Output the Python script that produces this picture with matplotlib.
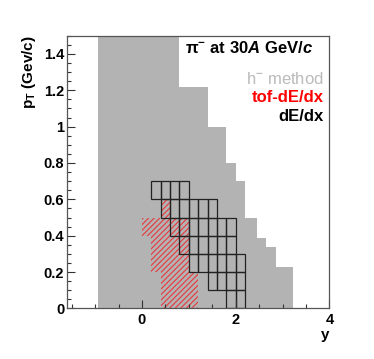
import matplotlib
matplotlib.use("Agg")
import matplotlib.pyplot as plt
import numpy as np
from matplotlib.ticker import MultipleLocator, FixedLocator

# ---- data ----
# h- method acceptance: upper pT edge per rapidity bin
gray_edges = [-0.94, 0.8, 1.4, 1.8, 2.0, 2.2, 2.45, 2.65, 2.85, 3.22]
gray_pt_max = [1.5, 1.22, 1.0, 0.8, 0.7, 0.5, 0.39, 0.34, 0.23]

# dE/dx acceptance: per pT row (lower edge), rapidity range of cells
dedx_pt_lo = [0.0, 0.1, 0.2, 0.3, 0.4, 0.5, 0.6]
dedx_y_min = [1.8, 1.4, 1.0, 0.8, 0.6, 0.4, 0.2]
dedx_y_max = [2.2, 2.2, 2.2, 2.0, 2.0, 1.6, 1.0]

# tof-dE/dx acceptance
tof_pt_lo = [0.0, 0.1, 0.2, 0.3, 0.4, 0.5]
tof_y_min = [0.4, 0.4, 0.2, 0.2, 0.0, 0.4]
tof_y_max = [1.2, 1.2, 1.0, 1.0, 1.0, 0.6]

cell_dy = 0.2
cell_dpt = 0.1

ytick_vals = [0, 0.2, 0.4, 0.6, 0.8, 1.0, 1.2, 1.4]
ytick_labels = ['0', '0.2', '0.4', '0.6', '0.8', '1', '1.2', '1.4']
xtick_vals = [0, 2, 4]
xtick_labels = ['0', '2', '4']

# ---- style ----
plt.rcParams['font.family'] = ['Liberation Sans', 'DejaVu Sans']
plt.rcParams['mathtext.fontset'] = 'custom'
plt.rcParams['mathtext.rm'] = 'Liberation Sans:bold'
plt.rcParams['mathtext.bf'] = 'Liberation Sans:bold'
plt.rcParams['mathtext.it'] = 'Liberation Sans:bold:italic'
plt.rcParams['hatch.linewidth'] = 0.8

fig = plt.figure(figsize=(3.74, 3.59), dpi=100)
ax = fig.add_axes([0.179, 0.1407, 0.702, 0.76])

# gray h- region
ax.stairs(gray_pt_max, gray_edges, baseline=0, fill=True, color='#b3b3b3', lw=0)

# tof-dE/dx hatched
for lo, ymin, ymax in zip(tof_pt_lo, tof_y_min, tof_y_max):
    ax.barh(lo, ymax - ymin, left=ymin, height=cell_dpt, align='edge',
            color='none', edgecolor='#e8383d', hatch='//////', linewidth=0)

# dE/dx grid cells
for lo, ymin, ymax in zip(dedx_pt_lo, dedx_y_min, dedx_y_max):
    n = int(round((ymax - ymin) / cell_dy))
    lefts = ymin + cell_dy * np.arange(n)
    ax.bar(lefts, [cell_dpt] * n, width=cell_dy, bottom=lo, align='edge',
           color='none', edgecolor='#222222', linewidth=0.9)

ax.set_xlim(-1.6, 4.0)
ax.set_ylim(0, 1.5)

ax.yaxis.set_major_locator(FixedLocator(ytick_vals))
ax.set_yticklabels(ytick_labels, fontsize=10.5, fontweight='bold')
ax.yaxis.set_minor_locator(MultipleLocator(0.05))
ax.xaxis.set_major_locator(FixedLocator(xtick_vals))
ax.set_xticklabels(xtick_labels, fontsize=10.5, fontweight='bold')
ax.xaxis.set_minor_locator(MultipleLocator(0.5))

ax.tick_params(which='both', direction='in', top=False, right=False, color='#333333')
ax.tick_params(which='major', length=5.5, width=0.8, pad=3)
ax.tick_params(which='minor', length=2.8, width=0.8)
ax.tick_params(axis='y', which='major', pad=2)
for s in ax.spines.values():
    s.set_color('#555555')
    s.set_linewidth(0.9)

ax.set_xlabel('y', fontsize=11, fontweight='bold', loc='right', labelpad=1)
ax.set_ylabel(r'p$_{\mathrm{T}}$ (Gev/c)', fontsize=11, fontweight='bold', loc='top', labelpad=4)

ax.text(0.937, 0.955, r'$\mathrm{\pi}^{-}$ at 30$\mathit{A}$ GeV/$\mathit{c}$',
        transform=ax.transAxes, ha='right', va='center', fontsize=12, fontweight='bold')
ax.text(0.979, 0.841, r'h$^{-}$ method', transform=ax.transAxes, ha='right', va='center',
        fontsize=12, color='#bbbbbb')
ax.text(0.979, 0.772, 'tof-dE/dx', transform=ax.transAxes, ha='right', va='center',
        fontsize=12, color='#ff0000', fontweight='bold')
ax.text(0.979, 0.705, 'dE/dx', transform=ax.transAxes, ha='right', va='center',
        fontsize=12, color='black', fontweight='bold')

fig.savefig('out.png', dpi=100)
